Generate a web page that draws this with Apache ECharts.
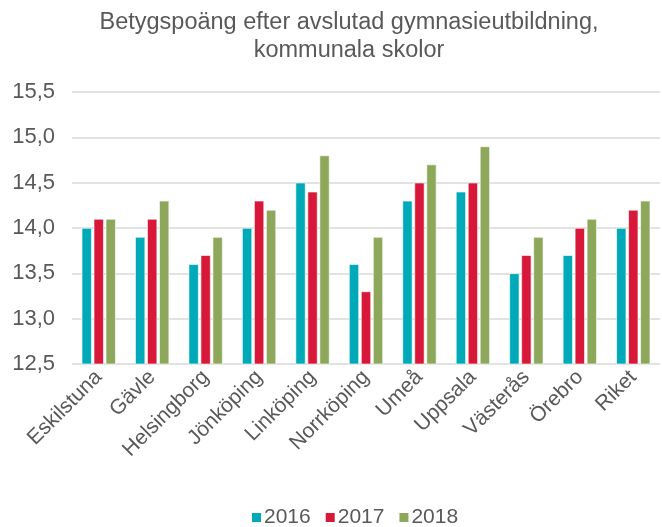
<!DOCTYPE html>
<html>
<head>
<meta charset="utf-8">
<script src="https://cdn.jsdelivr.net/npm/echarts@6/dist/echarts.min.js"></script>
<style>
  html, body { margin: 0; padding: 0; background: #fff; }
  #chart { width: 662px; height: 527px; }
</style>
</head>
<body>
<div id="chart"></div>
<script>
var cities = ['Eskilstuna', 'Gävle', 'Helsingborg', 'Jönköping', 'Linköping', 'Norrköping', 'Umeå', 'Uppsala', 'Västerås', 'Örebro', 'Riket']
var years = ['2016', '2017', '2018']
var v2016 = [14.0, 13.9, 13.6, 14.0, 14.5, 13.6, 14.3, 14.4, 13.5, 13.7, 14.0]
var v2017 = [14.1, 14.1, 13.7, 14.3, 14.4, 13.3, 14.5, 14.5, 13.7, 14.0, 14.2]
var v2018 = [14.1, 14.3, 13.9, 14.2, 14.8, 13.9, 14.7, 14.9, 13.9, 14.1, 14.3]
var colors = ['#00A9B8', '#D71839', '#8EA85B']

var chart = echarts.init(document.getElementById('chart'))
var font = 'Liberation Sans, Arial, sans-serif'

function barSeries (name, data) {
  return {
    name: name,
    type: 'bar',
    data: data,
    barWidth: 10,
    barGap: '20%',
    itemStyle: { borderColor: '#fff', borderWidth: 0.6 }
  }
}

var option = {
  color: colors,
  textStyle: { fontFamily: font },
  title: {
    text: 'Betygspoäng efter avslutad gymnasieutbildning,\nkommunala skolor',
    left: 344,
    textAlign: 'center',
    top: 4,
    textStyle: { fontFamily: font, fontSize: 23.5, fontWeight: 'normal', color: '#595959', lineHeight: 28 }
  },
  legend: {
    data: years,
    top: 502,
    left: 245,
    itemWidth: 11,
    itemHeight: 11,
    itemGap: 13,
    icon: 'rect',
    textStyle: { fontFamily: font, fontSize: 21, color: '#595959', padding: [0, 0, 0, -3] }
  },
  grid: { left: 72, right: 2, top: 92, bottom: 163 },
  xAxis: {
    type: 'category',
    data: cities,
    axisLine: { show: false },
    axisTick: { show: false },
    axisLabel: { rotate: 45, fontSize: 21, color: '#595959', fontFamily: font, margin: 10 }
  },
  yAxis: {
    type: 'value',
    min: 12.5,
    max: 15.5,
    interval: 0.5,
    axisLine: { show: false },
    axisTick: { show: false },
    splitLine: { lineStyle: { color: '#d9d9d9', width: 1.5 } },
    axisLabel: {
      fontSize: 22, color: '#595959', fontFamily: font, margin: 17,
      formatter: function (v) { return v.toFixed(1).replace('.', ',') }
    }
  },
  series: [
    barSeries('2016', v2016),
    barSeries('2017', v2017),
    barSeries('2018', v2018)
  ]
}
chart.setOption(option)
</script>
</body>
</html>
